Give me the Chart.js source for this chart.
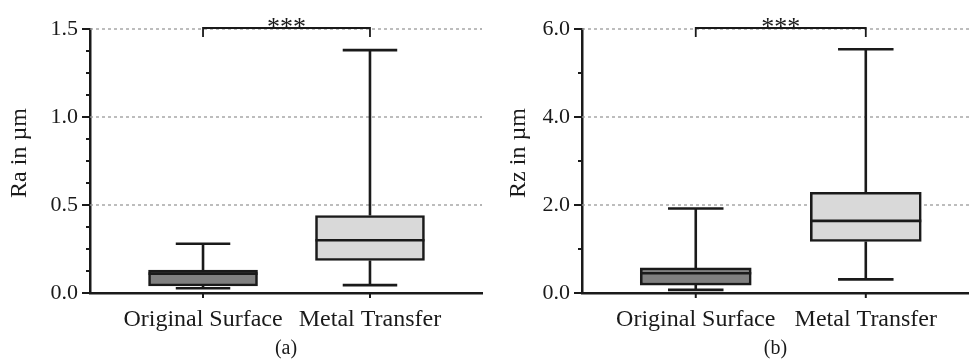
<!DOCTYPE html>
<html>
<head>
<meta charset="utf-8">
<script src="https://cdn.jsdelivr.net/npm/chart.js@4.4.1/dist/chart.umd.min.js"></script>
<style>
body { margin: 0; background: #fff; }
#wrap { position: relative; width: 969px; height: 361px; }
canvas { position: absolute; top: 0; }
</style>
</head>
<body>
<div id="wrap">
  <canvas id="ra-chart" width="484" height="361" style="left:0"></canvas>
  <canvas id="rz-chart" width="485" height="361" style="left:484px"></canvas>
</div>
<script>
//categories
const categories = ['Original Surface', 'Metal Transfer'];
const boxColors = ['#808080', '#d9d9d9'];

//Ra in um - box plot values
const raMin = [0.027, 0.045];
const raQ1 = [0.04, 0.185];
const raMedian = [0.11, 0.30];
const raQ3 = [0.13, 0.44];
const raMax = [0.28, 1.38];

//Rz in um - box plot values
const rzMin = [0.07, 0.31];
const rzQ1 = [0.18, 1.17];
const rzMedian = [0.45, 1.64];
const rzQ3 = [0.57, 2.29];
const rzMax = [1.92, 5.54];

const serif = "'Liberation Serif', 'Times New Roman', serif";
const ink = '#1a1a1a';

//whiskers, medians, tick marks, dashed grid, significance bracket
const boxPlot = {
    id: 'boxPlot',
    beforeDatasetsDraw(chart, args, o) {
        const {ctx, chartArea, scales: {y}} = chart;
        ctx.save();
        ctx.strokeStyle = '#9a9a9a';
        ctx.lineWidth = 1.3;
        ctx.setLineDash([3, 3]);
        y.ticks.forEach((t, i) => {
            if (t.value > 0 && isMajor(t.value, o.labelStep)) {
                const py = y.getPixelForTick(i);
                ctx.beginPath();
                ctx.moveTo(chartArea.left, py);
                ctx.lineTo(chartArea.right, py);
                ctx.stroke();
            }
        });
        ctx.restore();
    },
    afterDatasetsDraw(chart, args, o) {
        const {ctx, scales: {x, y}} = chart;
        ctx.save();
        ctx.strokeStyle = ink;
        ctx.lineWidth = 2.6;
        o.min.forEach((mn, i) => {
            const px = x.getPixelForValue(i);
            const half = o.boxWidth / 2;
            const cap = o.boxWidth / 4;
            ctx.beginPath();
            //upper whisker
            ctx.moveTo(px, y.getPixelForValue(o.q3[i]));
            ctx.lineTo(px, y.getPixelForValue(o.max[i]));
            ctx.moveTo(px - cap, y.getPixelForValue(o.max[i]));
            ctx.lineTo(px + cap, y.getPixelForValue(o.max[i]));
            //lower whisker
            ctx.moveTo(px, y.getPixelForValue(o.q1[i]));
            ctx.lineTo(px, y.getPixelForValue(mn));
            ctx.moveTo(px - cap, y.getPixelForValue(mn));
            ctx.lineTo(px + cap, y.getPixelForValue(mn));
            //median
            ctx.moveTo(px - half, y.getPixelForValue(o.median[i]));
            ctx.lineTo(px + half, y.getPixelForValue(o.median[i]));
            ctx.stroke();
        });
        ctx.restore();
    },
    afterDraw(chart, args, o) {
        const {ctx, chartArea, scales: {x, y}} = chart;
        ctx.save();
        ctx.strokeStyle = ink;
        ctx.lineWidth = 2;
        //y tick marks
        y.ticks.forEach((t, i) => {
            const py = y.getPixelForTick(i);
            const len = isMajor(t.value, o.labelStep) ? 8 : 4;
            ctx.beginPath();
            ctx.moveTo(chartArea.left - len, py);
            ctx.lineTo(chartArea.left, py);
            ctx.stroke();
        });
        //x tick marks
        categories.forEach((c, i) => {
            const px = x.getPixelForValue(i);
            ctx.beginPath();
            ctx.moveTo(px, chartArea.bottom);
            ctx.lineTo(px, chartArea.bottom + 5);
            ctx.stroke();
        });
        //bracket ***
        const x0 = x.getPixelForValue(0);
        const x1 = x.getPixelForValue(1);
        const top = chartArea.top - 1;
        ctx.lineWidth = 1.8;
        ctx.beginPath();
        ctx.moveTo(x0, top + 9);
        ctx.lineTo(x0, top);
        ctx.lineTo(x1, top);
        ctx.lineTo(x1, top + 9);
        ctx.stroke();
        ctx.fillStyle = ink;
        ctx.font = '26px ' + serif;
        ctx.textAlign = 'center';
        ctx.textBaseline = 'alphabetic';
        ctx.fillText('***', (x0 + x1) / 2, top + 7);
        //y axis title
        ctx.translate(o.titleX, o.titleY);
        ctx.rotate(-Math.PI / 2);
        ctx.font = '24px ' + serif;
        ctx.textBaseline = 'middle';
        ctx.fillText(o.title, 0, 0);
        ctx.restore();
    }
};

function isMajor(v, step) {
    return Math.abs(v / step - Math.round(v / step)) < 1e-9;
}

function boxChart(canvasId, o) {
    return new Chart(document.getElementById(canvasId), {
        type: 'bar',
        data: {
            datasets: [{
                data: o.q1.map((v, i) => ({x: i, y: [v, o.q3[i]]})),
                backgroundColor: boxColors,
                borderColor: ink,
                borderWidth: 2.6,
                borderSkipped: false,
                barThickness: o.boxWidth
            }]
        },
        options: {
            responsive: false,
            animation: false,
            layout: {
                padding: {left: 0, top: 29, right: o.padRight, bottom: 0}
            },
            plugins: {
                legend: {display: false},
                tooltip: {enabled: false},
                boxPlot: o
            },
            scales: {
                x: {
                    type: 'linear',
                    offset: false,
                    min: o.xMin,
                    max: o.xMax,
                    grid: {display: false, drawTicks: false},
                    border: {color: ink, width: 2.5},
                    afterBuildTicks: s => { s.ticks = categories.map((c, i) => ({value: i})); },
                    ticks: {
                        callback: v => categories[v],
                        padding: 12,
                        color: ink,
                        maxRotation: 0,
                        autoSkip: false,
                        font: {family: serif, size: 24}
                    },
                    title: {
                        display: true,
                        text: o.caption,
                        color: ink,
                        font: {family: serif, size: 20},
                        padding: {top: 0, bottom: 0}
                    },
                    afterFit: s => { s.height = 68; }
                },
                y: {
                    min: 0,
                    max: o.yMax,
                    grid: {display: false, drawTicks: false},
                    border: {color: ink, width: 2.5},
                    ticks: {
                        stepSize: o.minorStep,
                        autoSkip: false,
                        padding: 12,
                        color: ink,
                        font: {family: serif, size: 22},
                        callback: v => isMajor(v, o.labelStep) ? v.toFixed(1) : ''
                    },
                    afterFit: s => { s.width = o.axisWidth; }
                }
            }
        },
        plugins: [boxPlot]
    });
}

//left chart (a)
let raChart = boxChart('ra-chart', {
    min: raMin, q1: raQ1, median: raMedian, q3: raQ3, max: raMax,
    yMax: 1.5, minorStep: 0.125, labelStep: 0.5,
    xMin: -0.677, xMax: 1.671, axisWidth: 90, padRight: 2,
    boxWidth: 109, title: 'Ra in \u00b5m', titleX: 20, titleY: 153, caption: '(a)'
});

//right chart (b)
let rzChart = boxChart('rz-chart', {
    min: rzMin, q1: rzQ1, median: rzMedian, q3: rzQ3, max: rzMax,
    yMax: 6, minorStep: 1, labelStep: 2,
    xMin: -0.669, xMax: 1.607, axisWidth: 98, padRight: 0,
    boxWidth: 111, title: 'Rz in \u00b5m', titleX: 35, titleY: 153, caption: '(b)'
});
</script>
</body>
</html>
